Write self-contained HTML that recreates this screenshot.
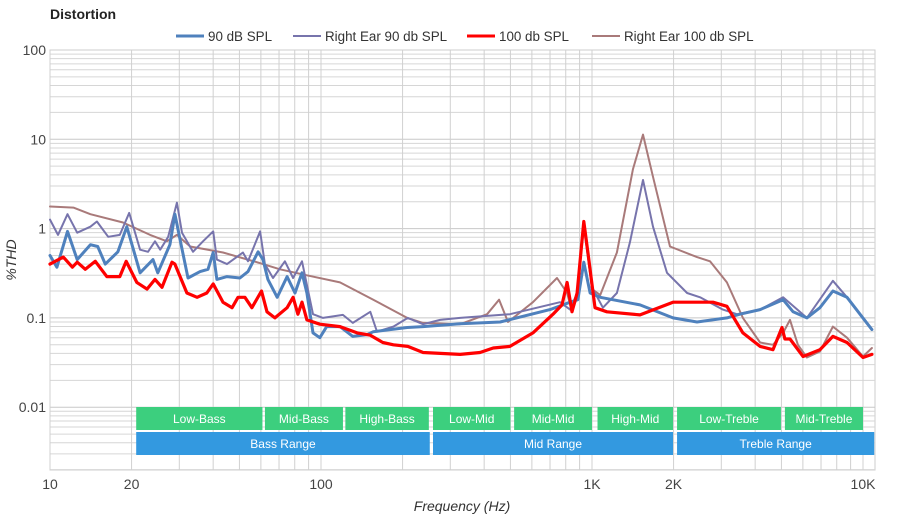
<!DOCTYPE html>
<html><head><meta charset="utf-8"><style>
body{margin:0;background:#fff;font-family:"Liberation Sans",sans-serif}
svg text{font-family:"Liberation Sans",sans-serif}
</style></head><body>
<svg id="chart" width="900" height="520" xmlns="http://www.w3.org/2000/svg">
<text x="50" y="19" font-size="14" font-weight="bold" fill="#222">Distortion</text>
<g id="grid"></g>
<g id="bands"></g>
<g id="series"></g>
<g id="axes"></g>
<g id="legend"></g>
<text x="462" y="511" font-size="14" font-style="italic" text-anchor="middle" fill="#333">Frequency (Hz)</text>
<text x="16" y="260" font-size="14" font-style="italic" text-anchor="middle" fill="#333" transform="rotate(-90 16 260)">%THD</text>
</svg>
<script>
const xTickVals=[10,20,100,1000,2000,10000];
const xTickLabels=["10","20","100","1K","2K","10K"];
const yTickVals=[100,10,1,0.1,0.01];
const yTickLabels=["100","10","1","0.1","0.01"];
const seriesNames=["90 dB SPL","Right Ear 90 db SPL","100 db SPL","Right Ear 100 db SPL"];
const bandNames=["Low-Bass","Mid-Bass","High-Bass","Low-Mid","Mid-Mid","High-Mid","Low-Treble","Mid-Treble"];
const bandStart=[20.8,62.1,123,259,516,1048,2060,5150];
const bandEnd=[60.8,120.5,250,500,1000,1991,4980,10000];
const rangeNames=["Bass Range","Mid Range","Treble Range"];
const rangeStart=[20.8,259,2060];
const rangeEnd=[252,1991,11000];

const f90=[10,10.6,11.6,12.6,14.1,15,16,17.8,19.2,21.5,24,25,27.7,28.9,30.2,32.3,35.8,38.3,40,41.3,45,50.2,53.8,58.6,61.1,63.7,68.9,75,80.2,85.1,88.7,93.4,99,105,117.5,131,148,156,208,238,326,458,700,830,887,933,984,1072,1503,1991,2440,3145,3515,4170,5070,5520,6210,6935,7745,8730,9750,10790];
const v90=[0.5,0.37,0.93,0.45,0.66,0.63,0.4,0.55,1.05,0.32,0.45,0.32,0.66,1.45,0.75,0.28,0.33,0.35,0.54,0.27,0.29,0.28,0.33,0.55,0.45,0.27,0.17,0.29,0.19,0.32,0.19,0.068,0.06,0.08,0.08,0.062,0.065,0.07,0.078,0.08,0.086,0.09,0.124,0.15,0.16,0.42,0.19,0.17,0.14,0.1,0.09,0.1,0.11,0.124,0.16,0.117,0.1,0.13,0.2,0.17,0.11,0.074];
const fR90=[10,10.7,11.6,12.6,14.1,14.9,16.4,18.1,19.6,21.5,23,24.4,25.5,27.3,29.4,30.7,33.7,36.7,40,41.3,45,51.5,53.8,59.6,62.1,66.5,73.6,78.9,85.1,93.4,101.7,120.5,131,152,161,185,209,238,275,326,498,762,830,881,933,1000,1097,1236,1380,1542,1679,1891,2244,2505,3040,3425,4170,5070,6210,7745,8730,10620];
const vR90=[1.26,0.85,1.45,0.9,1.05,1.2,0.81,0.85,1.5,0.58,0.55,0.72,0.58,0.81,1.95,0.9,0.55,0.72,0.93,0.45,0.4,0.54,0.43,0.93,0.4,0.28,0.43,0.28,0.43,0.11,0.1,0.108,0.088,0.117,0.07,0.08,0.1,0.085,0.095,0.1,0.11,0.15,0.124,0.19,1.05,0.22,0.13,0.19,0.7,3.5,1.05,0.32,0.19,0.17,0.124,0.11,0.124,0.17,0.1,0.26,0.17,0.078];
const f100=[10,11.2,12.1,12.6,13.5,14.7,16.2,18.1,19.1,20.9,22.8,24.4,25.9,28.2,28.9,32,34.9,37.9,40,43.5,47,49.4,52.4,55.6,60.3,63.2,67.6,75,78.9,82.2,85.1,88.7,99,117.5,136,152,169,185,209,238,326,386,432,498,605,718,775,809,844,881,933,966,1026,1135,1503,1991,2795,3145,3605,4170,4655,5025,5150,5380,6010,6935,7745,8730,10000,10790];
const v100=[0.4,0.48,0.37,0.42,0.35,0.43,0.29,0.29,0.43,0.25,0.21,0.27,0.22,0.42,0.4,0.19,0.17,0.19,0.24,0.15,0.13,0.17,0.17,0.13,0.2,0.117,0.1,0.13,0.17,0.11,0.15,0.095,0.085,0.08,0.068,0.064,0.053,0.05,0.048,0.041,0.039,0.041,0.046,0.048,0.068,0.11,0.14,0.25,0.117,0.19,1.2,0.54,0.13,0.117,0.108,0.15,0.15,0.135,0.068,0.048,0.044,0.078,0.058,0.058,0.037,0.044,0.062,0.053,0.036,0.039];
const fR100=[10,12.2,14.1,18.6,23.4,27,29.4,32.9,43.5,58,70.6,88.7,117.5,156,208,238,326,410,454,490,605,743,809,844,881,933,1000,1072,1236,1416,1542,1679,1940,2440,2725,3145,3605,4170,4655,5070,5380,5750,6210,6935,7745,8730,10000,10790];
const vR100=[1.77,1.72,1.45,1.17,0.85,0.72,0.85,0.63,0.54,0.42,0.35,0.3,0.25,0.16,0.1,0.088,0.085,0.11,0.16,0.09,0.15,0.28,0.19,0.117,0.17,1.17,0.21,0.18,0.54,4.6,11.3,3.8,0.63,0.48,0.43,0.25,0.1,0.053,0.05,0.068,0.095,0.05,0.036,0.042,0.08,0.06,0.037,0.046];

const L=50,R=875,T=50,B=470;
const X=f=>L+271*Math.log10(f/10);
const Y=v=>T+89.3*(2-Math.log10(v));
const NS="http://www.w3.org/2000/svg";
function mk(tag,attrs,parent){const e=document.createElementNS(NS,tag);for(const k in attrs)e.setAttribute(k,attrs[k]);parent.appendChild(e);return e;}
const grid=document.getElementById('grid');
mk('rect',{x:L,y:T,width:R-L,height:B-T,fill:'#fff',stroke:'#ccc'},grid);
for(let d=0.001;d<100;d*=10){for(let m=1;m<10;m++){const v=d*m;const y=Y(v);if(y<T-0.5||y>B)continue;
const ln=mk('line',{x1:L,x2:R,y1:y,y2:y,stroke:m==1?'#c8c8c8':'#d6d6d6','stroke-width':1},grid);

}}
for(let d=10;d<=10000;d*=10){for(let m=1;m<10;m++){const f=d*m;const x=X(f);if(x>R)continue;
const ln=mk('line',{x1:x,x2:x,y1:T,y2:B,stroke:'#d0d0d0','stroke-width':1},grid);

}}
const axes=document.getElementById('axes');
yTickVals.forEach((v,i)=>{const t=mk('text',{x:46,y:Y(v)+5,'font-size':14,'text-anchor':'end',fill:'#444'},axes);t.textContent=yTickLabels[i];

});
xTickVals.forEach((v,i)=>{const t=mk('text',{x:X(v),y:489,'font-size':14,'text-anchor':'middle',fill:'#444'},axes);t.textContent=xTickLabels[i];

});
const bands=document.getElementById('bands');
function band(name,a,b,y,col,dn){const x1=X(a),x2=Math.min(X(b),R);
const r=mk('rect',{x:x1,y:y,width:x2-x1,height:23,fill:col},bands);


const t=mk('text',{x:(x1+x2)/2,y:y+16,'font-size':12,'text-anchor':'middle',fill:'#fff'},bands);t.textContent=name;

}
bandNames.forEach((n,i)=>band(n,bandStart[i],bandEnd[i],407,'#3ccf7e','freq-band'));
rangeNames.forEach((n,i)=>band(n,rangeStart[i],rangeEnd[i],432,'#3399e0','freq-range'));
const series=document.getElementById('series');
const defs=[[fR100,vR100,'#a97a7a',2,'right-ear-100db-line'],[fR90,vR90,'#7774ac',2,'right-ear-90db-line'],[f90,v90,'#4f81bd',3,'90db-line'],[f100,v100,'#ff0000',3.2,'100db-line']];
defs.forEach(([fs,vs,c,w,n])=>{const p=mk('polyline',{points:fs.map((f,i)=>X(f).toFixed(1)+','+Y(vs[i]).toFixed(1)).join(' '),fill:'none',stroke:c,'stroke-width':w,'stroke-linejoin':'round','stroke-linecap':'round'},series);

});
const legend=document.getElementById('legend');
const lx=[176,293,467,592],lc=['#4f81bd','#7774ac','#ff0000','#a97a7a'],lw=[3,2,3,2];
seriesNames.forEach((n,i)=>{const g=mk('g',{},legend);


mk('line',{x1:lx[i],x2:lx[i]+28,y1:36,y2:36,stroke:lc[i],'stroke-width':lw[i]},g);
const t=mk('text',{x:lx[i]+32,y:41,'font-size':13.4,fill:'#333'},g);t.textContent=n;});
</script>
</body></html>
